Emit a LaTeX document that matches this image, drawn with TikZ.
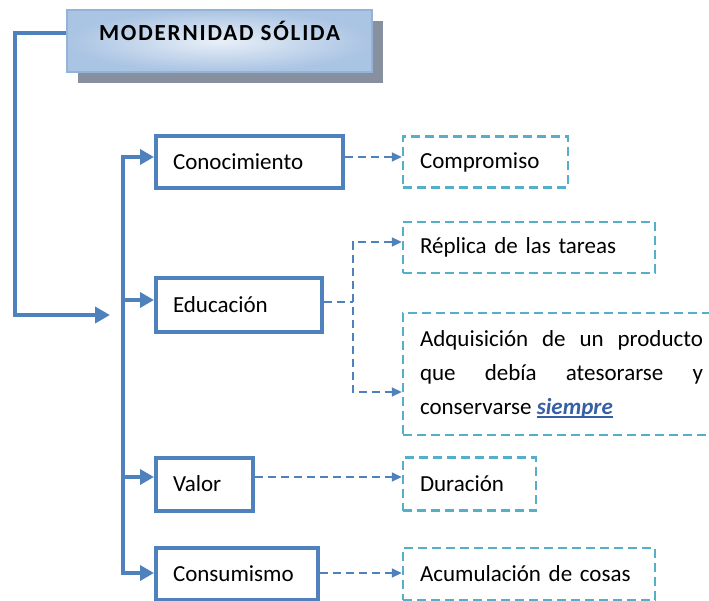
\documentclass[tikz,border=0pt]{standalone}
\usepackage{fontspec}
\setmainfont{Carlito}
\newfontfamily\titlefont[LetterSpace=8]{Carlito}
\usetikzlibrary{arrows.meta,shadows}
\definecolor{boxblue}{RGB}{79,129,189}
\definecolor{dashcyan}{RGB}{85,175,200}
\definecolor{titleline}{RGB}{149,179,215}
\definecolor{titlein}{RGB}{232,239,248}
\definecolor{titleout}{RGB}{170,196,227}
\definecolor{shadowgray}{RGB}{134,144,158}
\definecolor{wordblue}{RGB}{54,95,165}
\newcommand\thickul[1]{\leavevmode\setbox0\hbox{#1}\rlap{\color{wordblue}\rule[-3.5pt]{\wd0}{1.8pt}}\box0}
\begin{document}
\begin{tikzpicture}[x=1pt,y=-1pt,font=\fontsize{23}{34}\selectfont,
  boxa/.style={draw=boxblue,line width=4pt,minimum height=52pt,inner xsep=17pt,align=left},
  boxb/.style={draw=dashcyan,line width=2.5pt,dash pattern=on 9pt off 5pt,minimum height=51pt,inner xsep=17pt,align=left},
  flow/.style={draw=boxblue,line width=4pt},
  link/.style={draw=boxblue,line width=2.2pt,dash pattern=on 8pt off 5pt}]
\useasboundingbox (0,0) rectangle (709,601);
% titulo
\node[draw=titleline,line width=1.5pt,minimum width=305pt,minimum height=62pt,inner color=titlein,outer color=titleout,
  general shadow={fill=shadowgray,shadow xshift=11pt,shadow yshift=-11pt},text height=16pt,text depth=16pt](title)at(219.5,41){\titlefont\bfseries MODERNIDAD SÓLIDA};
% conceptos
\node[boxa,text width=153pt](con)at(249.5,162){Conocimiento};
\node[boxa,text width=132pt,minimum height=54pt](edu)at(239,305){Educación};
\node[boxa,text width=63pt,minimum height=53pt](val)at(204.5,484){Valor};
\node[boxa,text width=128pt](cons)at(237,574){Consumismo};
% rasgos
\node[boxb,text width=131pt](comp)at(485.5,162){Compromiso};
\node[boxb,text width=218pt](repl)at(529,247.5){Réplica de las tareas};
\node[boxb,text width=283pt,minimum height=122pt,align=justify](adq)at(561.5,374){Adquisición de un producto\linebreak que debía atesorarse y\linebreak conservarse \thickul{\color{wordblue}\textbf{\textit{siempre}}}};
\node[boxb,text width=99pt,minimum height=53pt](dur)at(469.5,484){Duración};
\node[boxb,text width=218pt,minimum height=52pt](acum)at(529,574){Acumulación de cosas};
% lineas
\coordinate(lbend)at(15,315);
\coordinate(lend)at(110,315);
\coordinate(t1)at(123,157);
\coordinate(t2)at(123,300);
\coordinate(t3)at(123,477);
\coordinate(t4)at(123,573);
\coordinate(ebranch)at(353,302);
\draw[flow,-{Triangle[length=15pt,width=16pt]}]([yshift=8pt]title.west)-|(lbend)--(lend);
\draw[flow,{Triangle[length=14pt,width=15pt]}-{Triangle[length=14pt,width=15pt]}](t1-|con.west)--(t1)--(t4)--(t4-|cons.west);
\draw[flow,-{Triangle[length=14pt,width=15pt]}](t2)--(t2-|edu.west);
\draw[flow,-{Triangle[length=14pt,width=15pt]}](t3)--(t3-|val.west);
\draw[link,-{Triangle[length=10pt,width=9pt]}]([yshift=5pt]con.east)--([yshift=5pt]comp.west);
\draw[link]([yshift=3pt]edu.east)--(ebranch);
\draw[link,{Triangle[length=10pt,width=9pt]}-{Triangle[length=10pt,width=9pt]}]([yshift=5.5pt]repl.west)-|(ebranch)|-([yshift=-18pt]adq.west);
\draw[link,-{Triangle[length=10pt,width=9pt]}]([yshift=7pt]val.east)--([yshift=7pt]dur.west);
\draw[link,-{Triangle[length=10pt,width=9pt]}]([yshift=1pt]cons.east)--([yshift=1pt]acum.west);
\end{tikzpicture}
\end{document}
